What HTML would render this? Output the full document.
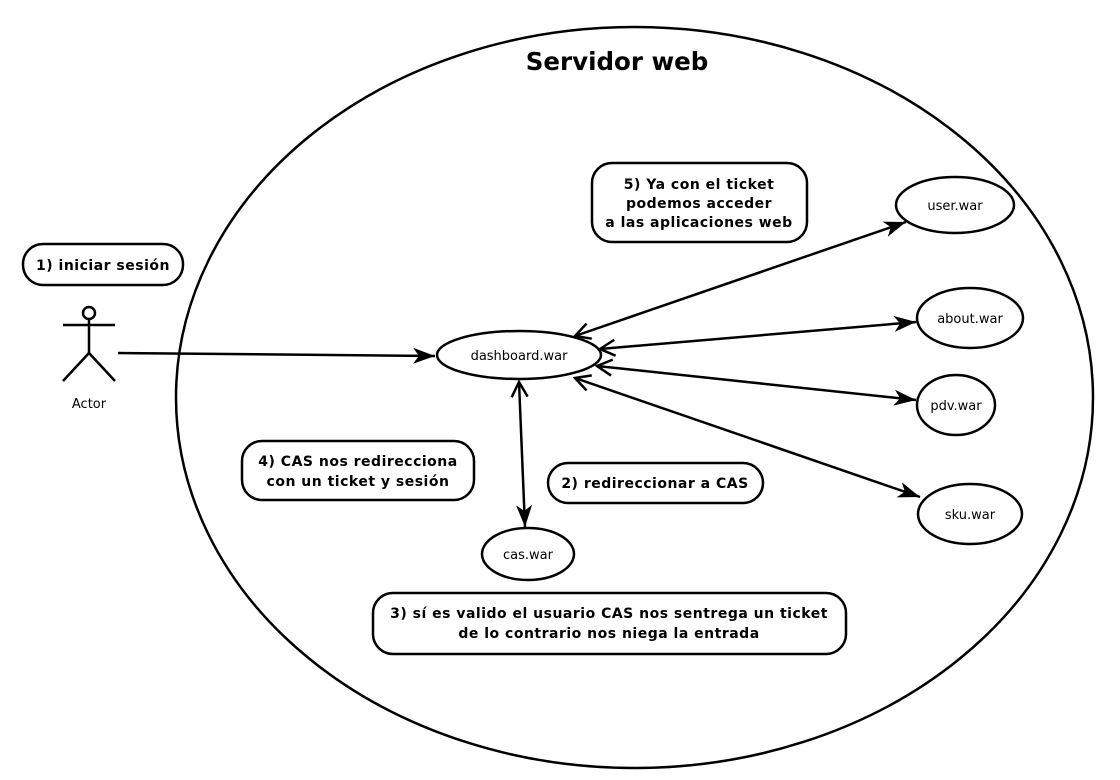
<!DOCTYPE html>
<html><head><meta charset="utf-8"><style>
html,body{margin:0;padding:0;background:#fff;}
svg{display:block;}
</style></head><body>
<svg width="1120" height="780" viewBox="0 0 1120 780" xmlns="http://www.w3.org/2000/svg" font-family="DejaVu Sans, Liberation Sans, sans-serif">
<defs>
<marker id="f" viewBox="0 0 24 24" refX="22" refY="12" markerWidth="24" markerHeight="24" markerUnits="userSpaceOnUse" orient="auto">
<path d="M0,4 L22,12 L0,20 L6,12 Z" fill="#000"/></marker>
<marker id="o" viewBox="0 0 24 24" refX="2" refY="12" markerWidth="24" markerHeight="24" markerUnits="userSpaceOnUse" orient="auto">
<path d="M17,4 L2,12 L17,20" fill="none" stroke="#000" stroke-width="2.5"/></marker>
</defs>
<g fill="none" stroke="#000" stroke-width="2.5">
<ellipse cx="634.5" cy="397.5" rx="458.5" ry="370.5"/>
<ellipse cx="519" cy="355" rx="82" ry="24"/>
<ellipse cx="955" cy="205" rx="59" ry="28"/>
<ellipse cx="970" cy="318" rx="53" ry="30"/>
<ellipse cx="956" cy="405" rx="39" ry="30"/>
<ellipse cx="970" cy="514" rx="52" ry="30"/>
<ellipse cx="528" cy="554" rx="46" ry="26"/>
<rect x="23" y="244" width="160" height="41" rx="20"/>
<rect x="592" y="163" width="215" height="79" rx="20"/>
<rect x="242" y="441" width="232" height="59" rx="20"/>
<rect x="548" y="463" width="215" height="40" rx="20"/>
<rect x="373" y="593" width="473" height="61" rx="20"/>
<circle cx="89" cy="313" r="6"/>
<line x1="89" y1="319" x2="89" y2="353"/>
<line x1="63" y1="325" x2="115" y2="325"/>
<polyline points="63,381 89,353 115,381"/>
<line x1="118" y1="353" x2="435" y2="356" marker-end="url(#f)"/>
<line x1="575" y1="336" x2="906" y2="222" marker-start="url(#o)" marker-end="url(#f)"/>
<line x1="600" y1="349" x2="916" y2="322" marker-start="url(#o)" marker-end="url(#f)"/>
<line x1="597" y1="366" x2="916" y2="400" marker-start="url(#o)" marker-end="url(#f)"/>
<line x1="575" y1="378" x2="920" y2="497" marker-start="url(#o)" marker-end="url(#f)"/>
<line x1="519" y1="382" x2="525" y2="527" marker-start="url(#o)" marker-end="url(#f)"/>
</g>
<text x="617" y="70" text-anchor="middle" font-weight="bold" font-size="24.5">Servidor web</text>
<g font-size="13" text-anchor="middle" fill="#000">
<text x="519" y="360">dashboard.war</text>
<text x="955" y="210">user.war</text>
<text x="970" y="323">about.war</text>
<text x="956" y="410">pdv.war</text>
<text x="970" y="519">sku.war</text>
<text x="528" y="559">cas.war</text>
<text x="89" y="408">Actor</text>
</g>
<g font-size="14" font-weight="bold" letter-spacing="0.5" text-anchor="middle" fill="#000">
<text x="103" y="270">1) iniciar sesión</text>
<text x="699" y="189">5) Ya con el ticket</text>
<text x="699" y="208">podemos acceder</text>
<text x="699" y="227">a las aplicaciones web</text>
<text x="358" y="466">4) CAS nos redirecciona</text>
<text x="358" y="486">con un ticket y sesión</text>
<text x="655" y="488">2) redireccionar a CAS</text>
<text x="609" y="618">3) sí es valido el usuario CAS nos sentrega un ticket</text>
<text x="609" y="638">de lo contrario nos niega la entrada</text>
</g>
</svg>
</body></html>
